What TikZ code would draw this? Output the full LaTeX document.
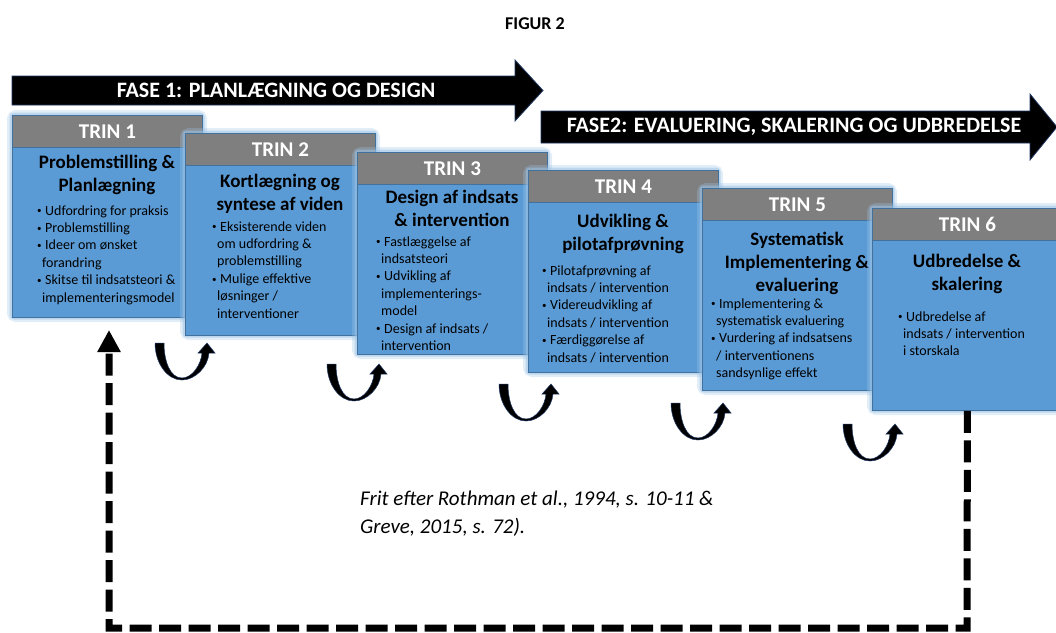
\documentclass[tikz,border=0pt]{standalone}
\usepackage{fontspec}
\setmainfont{Carlito}
\usetikzlibrary{arrows.meta}

\definecolor{boxblue}{HTML}{5B9BD5}
\definecolor{boxedge}{HTML}{41719C}
\definecolor{hdrgray}{HTML}{7F7F7F}
\definecolor{glowblue}{HTML}{9DC3E6}
\definecolor{arrowedge}{HTML}{203864}

% bullet and continuation-line helpers for the step lists
\newcommand\bpt{\makebox[8pt][l]{\raisebox{1.3pt}{\fontsize{9}{9}\selectfont •}}}
\newcommand\bcont{\hspace*{5pt}}
% soft halo round a step box (header + body)
\newcommand\tringlow[2]{%
  \draw[glowA] (#1,#2) rectangle ++(190,202);
  \draw[glowB] (#1,#2) rectangle ++(190,202);}

\tikzset{
  hdr/.style={fill=hdrgray, draw=boxedge, line width=0.8pt, minimum width=190pt,
    minimum height=32pt, anchor=north west, inner sep=0pt, text=white,
    font=\bfseries\fontsize{21}{25}\selectfont},
  body/.style={fill=boxblue, draw=boxedge, line width=0.8pt, minimum width=190pt,
    minimum height=170pt, anchor=north west, inner sep=0pt},
  ttl/.style={anchor=north, inner sep=0pt, align=center,
    font=\bfseries\fontsize{19}{23}\selectfont},
  bul/.style={anchor=north west, inner sep=0pt, align=left,
    font=\fontsize{14}{17.4}\selectfont},
  glowA/.style={draw=glowblue, line width=10pt, opacity=.3, rounded corners=4pt},
  glowB/.style={draw=glowblue, line width=5pt, opacity=.55, rounded corners=2pt},
  phasearrow/.style={fill=black, draw=arrowedge, line width=0.8pt},
  phase/.style={text=white, inner sep=0pt, font=\bfseries\fontsize{22}{26}\selectfont},
  feedback/.style={draw=black, line width=7pt, dash pattern=on 22pt off 7.5pt,
    -{Triangle[length=22pt,width=22pt]}},
  caption/.style={anchor=north west, inner sep=0pt, align=left,
    font=\itshape\fontsize{21}{28}\selectfont},
  uturn/.pic={
    \fill[black, draw=arrowedge, line width=0.5pt]
      (0,0) .. controls (0,20) and (12,37) .. (27,37)
      .. controls (40,37) and (53,24) .. (54,10)
      -- (60,10) -- (52,0) -- (43,10) -- (47,10)
      .. controls (46,22) and (37,35) .. (27,35)
      .. controls (15,35) and (9,18) .. (9,0) -- cycle;
  },
}

\begin{document}
\begin{tikzpicture}[x=1pt,y=-1pt]
\useasboundingbox (0,0) rectangle (1056,632);
\clip (0,0) rectangle (1056,632);

% heading
\node[font=\bfseries\fontsize{18}{21}\selectfont, inner sep=0pt] (fig) at (535,24) {FIGUR 2};

% phase arrows
\fill[phasearrow] (12,76) -- (515,76) -- (515,60) -- (543,90.5) -- (515,121)
  -- (515,105) -- (12,105) -- cycle;
\node[phase] (fase1) at (276,90.5) {FASE 1: PLANLÆGNING OG DESIGN};
\fill[phasearrow] (541,111) -- (1030,111) -- (1030,94) -- (1057,127) -- (1030,160)
  -- (1030,143) -- (541,143) -- cycle;
\node[phase] (fase2) at (794,127) {FASE2: EVALUERING, SKALERING OG UDBREDELSE};

% step 1
\tringlow{12}{115}
\node[hdr] (h1) at (12,115) {TRIN 1};
\node[body] (b1) at (12,147) {};
\node[ttl] (t1) at (107,151.9) {\strut Problemstilling \&\\Planlægning};
\node[bul] (l1) at (37,202.8) {\strut\bpt Udfordring for praksis\\
  \bpt Problemstilling\\
  \bpt Ideer om ønsket\\
  \bcont forandring\\
  \bpt Skitse til indsatsteori \&\\
  \bcont implementeringsmodel};

% step 2
\tringlow{185}{133}
\node[hdr] (h2) at (185,133) {TRIN 2};
\node[body] (b2) at (185,165) {};
\node[ttl] (t2) at (280,170.9) {\strut Kortlægning og\\syntese af viden};
\node[bul] (l2) at (212,218.8) {\strut\bpt Eksisterende viden\\
  \bcont om udfordring \&\\
  \bcont problemstilling\\
  \bpt Mulige effektive\\
  \bcont løsninger /\\
  \bcont interventioner};

% step 3
\tringlow{357}{152}
\node[hdr] (h3) at (357,152) {TRIN 3};
\node[body] (b3) at (357,184) {};
\node[ttl] (t3) at (452,186.9) {\strut Design af indsats\\\& intervention};
\node[bul] (l3) at (376,233.8) {\strut\bpt Fastlæggelse af\\
  \bcont indsatsteori\\
  \bpt Udvikling af\\
  \bcont implementerings-\\
  \bcont model\\
  \bpt Design af indsats /\\
  \bcont intervention};

% step 4
\tringlow{528}{170}
\node[hdr] (h4) at (528,170) {TRIN 4};
\node[body] (b4) at (528,202) {};
\node[ttl] (t4) at (623,210.9) {\strut Udvikling \&\\pilotafprøvning};
\node[bul] (l4) at (542,262.8) {\strut\bpt Pilotafprøvning af\\
  \bcont indsats / intervention\\
  \bpt Videreudvikling af\\
  \bcont indsats / intervention\\
  \bpt Færdiggørelse af\\
  \bcont indsats / intervention};

% step 5
\tringlow{702}{188}
\node[hdr] (h5) at (702,188) {TRIN 5};
\node[body] (b5) at (702,220) {};
\node[ttl] (t5) at (797,228.9) {\strut Systematisk\\Implementering \&\\evaluering};
\node[bul] (l5) at (711,295.8) {\strut\bpt Implementering \&\\
  \bcont systematisk evaluering\\
  \bpt Vurdering af indsatsens\\
  \bcont / interventionens\\
  \bcont sandsynlige effekt};

% step 6
\tringlow{872}{208}
\node[hdr] (h6) at (872,208) {TRIN 6};
\node[body] (b6) at (872,240) {};
\node[ttl] (t6) at (967,250.9) {\strut Udbredelse \&\\skalering};
\node[bul] (l6) at (898,308.8) {\strut\bpt Udbredelse af\\
  \bcont indsats / intervention\\
  \bcont i storskala};

% iteration arrows between the steps
\pic (u1) at (155,343) {uturn};
\pic (u2) at (327,364) {uturn};
\pic (u3) at (499,384) {uturn};
\pic (u4) at (671,403) {uturn};
\pic (u5) at (843,424) {uturn};

% feedback loop from step 6 back to step 1
\coordinate (fbr) at (967,628);
\coordinate (fbl) at (109,628);
\coordinate (fbin) at (109,330);
\draw[feedback] (b6.south) -- (fbr) -- (fbl) -- (fbin);

% source note
\node[caption] (src) at (360,485.4) {\strut Frit efter Rothman et al., 1994, s. 10-11 \&\\Greve, 2015, s. 72).};
\end{tikzpicture}
\end{document}
